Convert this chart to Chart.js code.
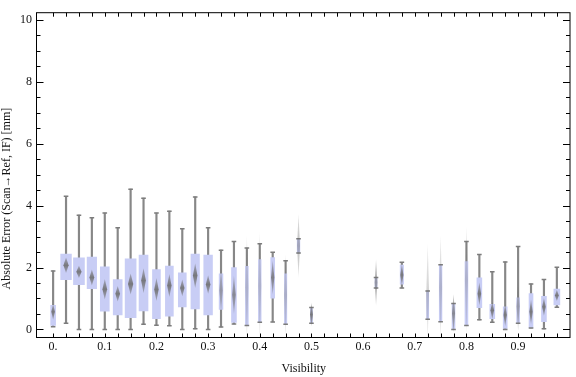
<!DOCTYPE html>
<html>
<head>
<meta charset="UTF-8">
<title>Absolute Error vs Visibility</title>
<script src="https://cdn.jsdelivr.net/npm/chart.js"></script>
<style>
  body { margin: 0; background: #fff; }
  #chart { display: block; }
</style>
</head>
<body>
<canvas id="chart" width="576" height="377"></canvas>
<script>
// one bin every 0.025 of visibility; null = empty bin
const visibility = [0, 0.025, 0.05, 0.075, 0.1, 0.125, 0.15, 0.175, 0.2, 0.225,
  0.25, 0.275, 0.3, 0.325, 0.35, 0.375, 0.4, 0.425, 0.45, 0.475,
  0.5, 0.525, 0.55, 0.575, 0.6, 0.625, 0.65, 0.675, 0.7, 0.725,
  0.75, 0.775, 0.8, 0.825, 0.85, 0.875, 0.9, 0.925, 0.95, 0.975];

const whiskerLow = [0.09, 0.20, 0, 0, 0, 0, 0, 0.17, 0.14, 0.12,
  0, 0.02, 0, 0.08, 0.18, 0.13, 0.23, 0.24, 0.17, 2.47,
  0.20, null, null, null, null, 1.34, null, 1.34, null, 0.33,
  0.25, 0, 0.13, 0.31, 0.23, 0, 0.20, 0.05, 0.02, 0.72];
const q1 = [0.13, 1.61, 1.45, 1.32, 0.59, 0.47, 0.38, 0.60, 0.35, 0.43,
  0.73, 0.66, 0.47, 0.65, 0.23, 0.13, 0.23, 1.01, 0.17, 2.47,
  0.20, null, null, null, null, 1.34, null, 1.46, null, 0.33,
  0.25, 0, 0.13, 0.70, 0.35, 0.03, 0.20, 0.05, 0.25, 0.79];
const q3 = [0.78, 2.43, 2.31, 2.34, 2.02, 1.61, 2.28, 2.40, 1.93, 2.05,
  1.83, 2.43, 2.40, 1.80, 2.00, 2.04, 2.26, 2.32, 1.80, 2.93,
  0.71, null, null, null, null, 1.68, null, 2.08, null, 1.24,
  2.09, 0.84, 2.19, 1.67, 0.81, 0.73, 1.02, 1.16, 1.07, 1.30];
const whiskerHigh = [1.89, 4.30, 3.69, 3.61, 3.76, 3.28, 4.53, 4.24, 3.76, 3.82,
  3.25, 4.28, 3.28, 2.56, 2.84, 2.63, 2.77, 2.49, 2.22, 2.93,
  0.71, null, null, null, null, 1.68, null, 2.17, null, 1.24,
  2.09, 0.84, 2.84, 2.42, 1.86, 2.18, 2.68, 1.47, 1.61, 2.01];
const means = [0.57, 2.07, 1.86, 1.68, 1.30, 1.15, 1.47, 1.58, 1.29, 1.42,
  1.34, 1.74, 1.45, 1.26, 1.12, 1.35, 1.40, 1.68, 1.11, 2.70,
  0.48, null, null, null, null, 1.52, null, 1.76, null, 1.22,
  1.35, 0.52, 1.60, 1.15, 0.62, 0.47, 0.75, 0.57, 0.73, 1.10];
const meanCI = [0.26, 0.25, 0.20, 0.26, 0.33, 0.25, 0.34, 0.40, 0.37, 0.37,
  0.27, 0.40, 0.30, 0.75, 0.62, 1.68, 1.73, 0.55, 1.33, 1.02,
  0.38, null, null, null, null, 0.74, null, 0.35, null, 1.55,
  1.68, 0.62, 1.72, 0.37, 0.28, 0.37, 0.80, 0.40, 0.29, 0.18];
const counts = [17, 80, 84, 63, 56, 56, 84, 56, 44, 44,
  44, 50, 53, 10, 17, 6, 5, 11, 4, 5,
  3, 0, 0, 0, 0, 3, 0, 8, 0, 3,
  5, 6, 6, 17, 17, 11, 6, 11, 17, 25];

const xTickLabels = [0, 0.1, 0.2, 0.3, 0.4, 0.5, 0.6, 0.7, 0.8, 0.9];
const yTickLabels = [0, 2, 4, 6, 8, 10];

const font = { family: '"Liberation Serif", "DejaVu Serif", serif', size: 12 };
const boxWidth = n => 1.2 * Math.sqrt(n);
const filled = visibility.map((v, i) => i).filter(i => q1[i] !== null);

const boxSets = filled.map(i => ({
  type: 'bar',
  data: [{ x: visibility[i], y: [q1[i], q3[i]] }],
  backgroundColor: '#c8cdf5',
  barThickness: boxWidth(counts[i]),
  grouped: false,
  order: 2
}));

const whiskerSet = {
  type: 'bar',
  data: filled.map(i => ({ x: visibility[i], y: [whiskerLow[i], whiskerHigh[i]] })),
  backgroundColor: '#878787',
  barThickness: 1.5,
  grouped: false,
  order: 3
};

const capSet = {
  type: 'scatter',
  data: filled.flatMap(i => [{ x: visibility[i], y: whiskerLow[i] }, { x: visibility[i], y: whiskerHigh[i] }]),
  pointStyle: 'line',
  pointRadius: 2.3,
  borderWidth: 1.5,
  borderColor: '#7c7c7c',
  order: 1
};

// mean diamonds, soft grey, fainter when the interval is wide
const diamondPlugin = {
  id: 'diamonds',
  afterDatasetsDraw(chart) {
    const { ctx, scales: { x, y } } = chart;
    ctx.save();
    filled.forEach(i => {
      const cx = x.getPixelForValue(visibility[i]);
      const top = y.getPixelForValue(means[i] + meanCI[i]);
      const mid = y.getPixelForValue(means[i]);
      const bot = y.getPixelForValue(means[i] - meanCI[i]);
      const hw = 1.1 + 0.14 * boxWidth(counts[i]);
      const a = Math.min(0.9, Math.max(0.3, 0.45 / meanCI[i]));
      const g = ctx.createLinearGradient(0, top, 0, bot);
      g.addColorStop(0, 'rgba(110,110,110,' + (a * 0.45) + ')');
      g.addColorStop(0.5, 'rgba(110,110,110,' + a + ')');
      g.addColorStop(1, 'rgba(110,110,110,' + (a * 0.45) + ')');
      ctx.fillStyle = g;
      ctx.beginPath();
      ctx.moveTo(cx, top);
      ctx.lineTo(cx + hw, mid);
      ctx.lineTo(cx, bot);
      ctx.lineTo(cx - hw, mid);
      ctx.closePath();
      ctx.fill();
    });
    ctx.restore();
  }
};

// frame with inward ticks on all four sides
const framePlugin = {
  id: 'frame',
  afterDraw(chart) {
    const { ctx, chartArea: a, scales: { x, y } } = chart;
    const L = a.left - 0.5, R = a.right - 0.5, T = a.top + 0.5, B = a.bottom + 0.5;
    ctx.save();
    ctx.strokeStyle = '#000';
    ctx.lineWidth = 1;
    ctx.strokeRect(L, T, R - L, B - T);
    ctx.beginPath();
    visibility.forEach(v => {
      const px = Math.round(x.getPixelForValue(v)) + 0.5;
      ctx.moveTo(px, B); ctx.lineTo(px, B - 4);
      ctx.moveTo(px, T); ctx.lineTo(px, T + 4);
    });
    for (let v = 0; v <= 10; v += 0.5) {
      const py = Math.round(y.getPixelForValue(v)) + 0.5;
      const len = v % 2 === 0 ? 7 : 4;
      ctx.moveTo(L, py); ctx.lineTo(L + len, py);
      ctx.moveTo(R, py); ctx.lineTo(R - len, py);
    }
    ctx.stroke();
    ctx.restore();
  }
};

new Chart(document.getElementById('chart'), {
  type: 'bar',
  data: { datasets: [whiskerSet, ...boxSets, capSet] },
  options: {
    responsive: false,
    animation: false,
    layout: { padding: { top: 4, right: 0, bottom: 0, left: 0 } },
    plugins: { legend: { display: false }, tooltip: { enabled: false } },
    scales: {
      x: {
        type: 'linear',
        min: -0.0312,
        max: 1.0014,
        offset: false,
        grid: { display: false, drawTicks: false },
        border: { display: false },
        afterBuildTicks: s => { s.ticks = xTickLabels.map(v => ({ value: v })); },
        afterFit: s => { s.height = 40; },
        ticks: {
          callback: v => v === 0 ? '0.' : v.toFixed(1),
          font: font, color: '#111', padding: 3, maxRotation: 0, autoSkip: false
        },
        title: { display: true, text: 'Visibility', font: font, color: '#111', padding: { top: 0, bottom: 1 } }
      },
      y: {
        min: -0.243,
        max: 10.242,
        grid: { display: false, drawTicks: false },
        border: { display: false },
        afterBuildTicks: s => { s.ticks = yTickLabels.map(v => ({ value: v })); },
        afterFit: s => { s.width = 37; },
        ticks: { font: font, color: '#111', padding: 5 },
        title: {
          display: true,
          text: 'Absolute Error (Scan\u2192Ref, IF) [mm]\u2003\u2003\u2003\u2003',
          font: font, color: '#111', padding: { top: 0, bottom: 0 }
        }
      }
    }
  },
  plugins: [diamondPlugin, framePlugin]
});
</script>
</body>
</html>
